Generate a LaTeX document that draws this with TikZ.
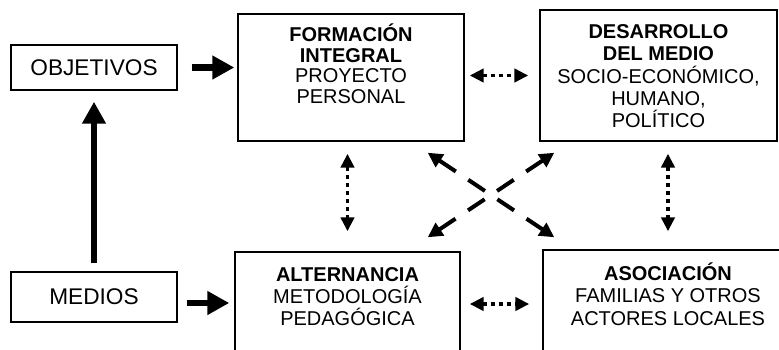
\documentclass[tikz,border=0pt]{standalone}
\usepackage{fontspec}
\setmainfont{Liberation Sans}
\usetikzlibrary{arrows.meta}

\tikzset{
  caja/.style={draw,rectangle,line width=1.1pt,inner sep=0pt},
  etiqueta/.style={font=\fontsize{17}{20}\selectfont},
  gruesa/.style={line width=5pt,-{Triangle[length=16.5pt,width=17pt]}},
  punteada/.style={line width=2.6pt,dash pattern=on 3pt off 3pt,
    {Triangle[length=10.5pt,width=10pt]}-{Triangle[length=10.5pt,width=10pt]}},
  discontinua/.style={line width=3pt,dash pattern=on 15pt off 11.25pt,
    {Triangle[length=11pt,width=11pt]}-{Triangle[length=11pt,width=11pt]}}
}

\begin{document}
\begin{tikzpicture}[x=0.75pt,y=-0.75pt]
\useasboundingbox (0,0) rectangle (779,350);

% objetivos y medios
\node[caja,etiqueta,minimum width=124.5pt,minimum height=33.75pt] (obj) at (94,67.5) {OBJETIVOS};
\node[caja,etiqueta,minimum width=124.5pt,minimum height=37.5pt] (medios) at (94,297) {MEDIOS};

% cuatro pilares
\node[caja] (form) at (351,77.5) {%
\begin{minipage}[t][95.25pt][t]{169.5pt}
\centering\fontsize{15}{15.4}\selectfont
\rule{0pt}{20.8pt}\textbf{FORMACIÓN}\\
\textbf{INTEGRAL}\\
PROYECTO\\
PERSONAL
\end{minipage}};

\node[caja] (des) at (658.5,75.5) {%
\begin{minipage}[t][98.25pt][t]{177.75pt}
\centering\fontsize{15}{16.8}\selectfont
\rule{0pt}{21.2pt}\textbf{DESARROLLO}\\
\textbf{DEL MEDIO}\\
SOCIO-ECONÓMICO,\\
HUMANO,\\
POLÍTICO
\end{minipage}};

\node[caja] (alt) at (347.5,304) {%
\begin{minipage}[t][78pt][t]{168.75pt}
\centering\fontsize{15}{16.3}\selectfont
\rule{0pt}{22.3pt}\textbf{ALTERNANCIA}\\
METODOLOGÍA\\
PEDAGÓGICA
\end{minipage}};

\node[caja] (asoc) at (668,304) {%
\begin{minipage}[t][81pt][t]{187.5pt}
\centering\fontsize{15}{16.9}\selectfont
\rule{0pt}{22.5pt}\textbf{ASOCIACIÓN}\\
FAMILIAS Y OTROS\\
ACTORES LOCALES
\end{minipage}};

% flechas gruesas
\draw[gruesa,shorten <=10.5pt,shorten >=2.25pt] (obj.east) -- (obj.east -| form.west);
\draw[gruesa,shorten <=6pt,shorten >=8.25pt] (medios.north) -- (obj.south);
\draw[gruesa,shorten <=6.75pt,shorten >=3.75pt] ([yshift=-4.5pt]medios.east) -- ([yshift=-4.5pt]medios.east -| alt.west);

% flechas punteadas
\draw[punteada,shorten <=3.75pt,shorten >=8.25pt] (des.west -| form.east) -- (des.west);
\draw[punteada,shorten <=6.75pt,shorten >=9.75pt] (alt.east) -- (asoc.west);
\draw[punteada,shorten <=9pt,shorten >=15pt] (form.south -| alt.north) -- (alt.north);
\draw[punteada,shorten <=9pt,shorten >=13.5pt] (des.south -| asoc.north) -- (asoc.north);

% flechas cruzadas
\draw[discontinua] ([xshift=-27.75pt,yshift=-8.25pt]form.south east) -- ([xshift=9pt,yshift=9pt]asoc.north west);
\draw[discontinua] ([xshift=11.25pt,yshift=-8.25pt]des.south west) -- ([xshift=-24.75pt,yshift=10.5pt]alt.north east);
\end{tikzpicture}
\end{document}
